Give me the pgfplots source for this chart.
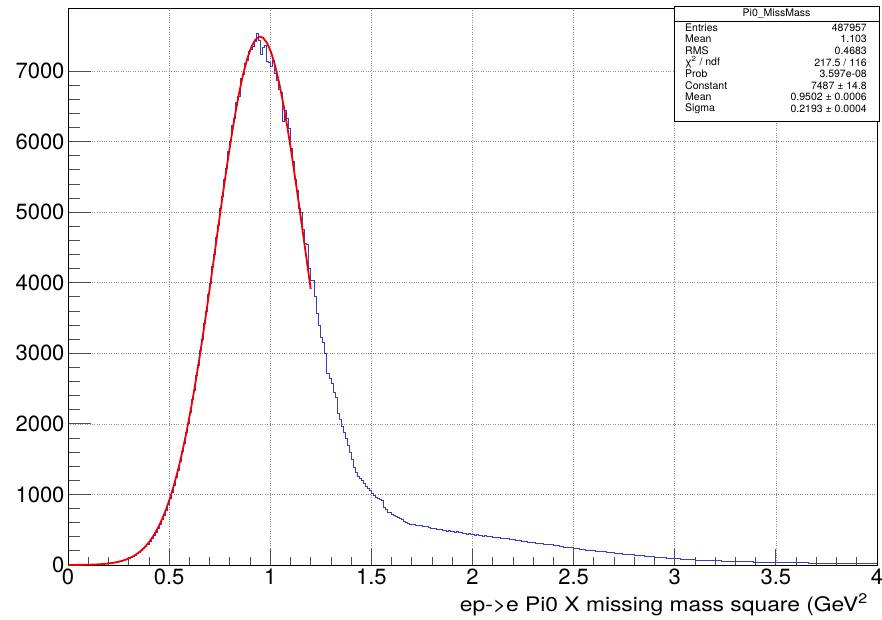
\documentclass[border=0pt]{standalone}
\usepackage{fontspec}
\setmainfont{TeX Gyre Heros}
\usepackage{pgfplots}
\pgfplotsset{compat=1.18}
\definecolor{histblue}{RGB}{60,60,185}
\definecolor{fitred}{RGB}{240,0,0}
\begin{document}
\begin{tikzpicture}[x=1pt,y=1pt]
\path[use as bounding box] (0,0) rectangle (882,619);
\begin{axis}[
  at={(68pt,54pt)}, anchor=south west,
  scale only axis, width=809pt, height=557pt,
  xmin=0, xmax=4, ymin=0, ymax=7893,
  axis line style={black, line width=0.8pt},
  xtick={0,0.5,1,1.5,2,2.5,3,3.5,4},
  xticklabels={0,0.5,1,1.5,2,2.5,3,3.5,4},
  ytick={0,1000,2000,3000,4000,5000,6000,7000},
  yticklabels={0,1000,2000,3000,4000,5000,6000,7000},
  minor x tick num=4, minor y tick num=4,
  xtick pos=bottom, ytick pos=left,
  tick align=inside,
  major tick length=16pt, minor tick length=8pt,
  every y tick/.append style={/pgfplots/major tick length=23pt,/pgfplots/minor tick length=12pt},
  tick style={black!70, line width=0.8pt},
  grid=major,
  grid style={dotted, black!45, line width=0.6pt},
  scaled ticks=false,
  /pgf/number format/assume math mode=true,
  ticklabel style={font=\fontsize{22}{22}\selectfont},
  clip=true,
]
\addplot[const plot, histblue, line width=0.8pt, mark=none] coordinates {
(0.00,0)(0.01,1)(0.02,1)(0.03,2)(0.04,1)(0.05,2)(0.06,3)(0.07,2)(0.08,4)(0.09,3)
(0.10,5)(0.11,6)(0.12,5)(0.13,8)(0.14,9)(0.15,10)(0.16,13)(0.17,14)(0.18,18)(0.19,19)
(0.20,24)(0.21,26)(0.22,31)(0.23,37)(0.24,41)(0.25,48)(0.26,57)(0.27,64)(0.28,73)(0.29,85)
(0.30,96)(0.31,110)(0.32,124)(0.33,142)(0.34,160)(0.35,181)(0.36,205)(0.37,236)(0.38,262)(0.39,296)
(0.40,334)(0.41,372)(0.42,418)(0.43,468)(0.44,515)(0.45,578)(0.46,640)(0.47,706)(0.48,780)(0.49,860)
(0.50,948)(0.51,1030)(0.52,1135)(0.53,1240)(0.54,1345)(0.55,1470)(0.56,1610)(0.57,1720)(0.58,1880)(0.59,2005)
(0.60,2160)(0.61,2345)(0.62,2480)(0.63,2690)(0.64,2830)(0.65,3040)(0.66,3190)(0.67,3420)(0.68,3590)(0.69,3830)
(0.70,3990)(0.71,4230)(0.72,4400)(0.73,4640)(0.74,4810)(0.75,5060)(0.76,5220)(0.77,5470)(0.78,5620)(0.79,5860)
(0.80,6000)(0.81,6230)(0.82,6330)(0.83,6560)(0.84,6640)(0.85,6900)(0.86,6950)(0.87,7110)(0.88,7150)(0.89,7280)
(0.90,7300)(0.91,7350)(0.92,7420)(0.93,7535)(0.94,7430)(0.95,7230)(0.96,7340)(0.97,7360)(0.98,7140)(0.99,7120)
(1.00,7060)(1.01,7150)(1.02,6970)(1.03,6860)(1.04,6740)(1.05,6700)(1.06,6290)(1.07,6440)(1.08,6330)(1.09,6180)
(1.10,5900)(1.11,5720)(1.12,5470)(1.13,5310)(1.14,5050)(1.15,4990)(1.16,4750)(1.17,4560)(1.18,4550)(1.19,4210)
(1.20,4040)(1.21,4030)(1.22,3800)(1.23,3570)(1.24,3390)(1.25,3230)(1.26,3160)(1.27,3000)(1.28,2720)(1.29,2650)
(1.30,2580)(1.31,2440)(1.32,2380)(1.33,2150)(1.34,2060)(1.35,1960)(1.36,1880)(1.37,1790)(1.38,1700)(1.39,1590)
(1.40,1500)(1.41,1390)(1.42,1310)(1.43,1260)(1.44,1230)(1.45,1200)(1.46,1150)(1.47,1110)(1.48,1080)(1.49,1060)
(1.50,1020)(1.51,990)(1.52,965)(1.53,950)(1.54,930)(1.55,920)(1.56,810)(1.57,790)(1.58,740)(1.59,745)
(1.60,720)(1.61,705)(1.62,695)(1.63,680)(1.64,665)(1.65,640)(1.66,620)(1.67,610)(1.68,595)(1.69,580)
(1.70,570)(1.71,575)(1.72,560)(1.73,565)(1.74,555)(1.75,548)(1.76,540)(1.77,545)(1.78,528)(1.79,520)
(1.80,515)(1.81,522)(1.82,505)(1.83,500)(1.84,505)(1.85,490)(1.86,495)(1.87,480)(1.88,485)(1.89,470)
(1.90,475)(1.91,465)(1.92,470)(1.93,455)(1.94,460)(1.95,445)(1.96,450)(1.97,440)(1.98,445)(1.99,430)
(2.00,435)(2.01,425)(2.02,430)(2.03,415)(2.04,420)(2.05,410)(2.06,415)(2.07,405)(2.08,400)(2.09,402)
(2.10,395)(2.11,398)(2.12,388)(2.13,390)(2.14,380)(2.15,384)(2.16,372)(2.17,375)(2.18,365)(2.19,362)
(2.20,358)(2.21,352)(2.22,348)(2.23,350)(2.24,338)(2.25,335)(2.26,330)(2.27,325)(2.28,322)(2.29,318)
(2.30,315)(2.31,308)(2.32,312)(2.33,302)(2.34,300)(2.35,294)(2.36,296)(2.37,288)(2.38,285)(2.39,286)
(2.40,280)(2.41,272)(2.42,274)(2.43,265)(2.44,262)(2.45,255)(2.46,256)(2.47,248)(2.48,244)(2.49,245)
(2.50,236)(2.51,238)(2.52,230)(2.53,228)(2.54,222)(2.55,224)(2.56,214)(2.57,212)(2.58,208)(2.59,206)
(2.60,200)(2.61,198)(2.62,195)(2.63,192)(2.64,190)(2.65,186)(2.66,182)(2.67,180)(2.68,175)(2.69,172)
(2.70,170)(2.71,167)(2.72,165)(2.73,160)(2.74,157)(2.75,156)(2.76,152)(2.77,148)(2.78,147)(2.79,144)
(2.80,142)(2.81,138)(2.82,136)(2.83,134)(2.84,130)(2.85,126)(2.86,125)(2.87,120)(2.88,118)(2.89,117)
(2.90,114)(2.91,111)(2.92,110)(2.93,106)(2.94,104)(2.95,103)(2.96,100)(2.97,98)(2.98,97)(2.99,95)
(3.00,93)(3.01,90)(3.02,89)(3.03,86)(3.04,84)(3.05,83)(3.06,80)(3.07,78)(3.08,77)(3.09,74)
(3.10,72)(3.11,71)(3.12,70)(3.13,68)(3.14,67)(3.15,66)(3.16,65)(3.17,64)(3.18,63)(3.19,62)
(3.20,62)(3.21,60)(3.22,59)(3.23,58)(3.24,57)(3.25,56)(3.26,55)(3.27,54)(3.28,53)(3.29,52)
(3.30,52)(3.31,51)(3.32,50)(3.33,49)(3.34,48)(3.35,47)(3.36,47)(3.37,46)(3.38,45)(3.39,44)
(3.40,44)(3.41,43)(3.42,42)(3.43,42)(3.44,41)(3.45,40)(3.46,40)(3.47,39)(3.48,38)(3.49,38)
(3.50,37)(3.51,37)(3.52,36)(3.53,36)(3.54,35)(3.55,35)(3.56,34)(3.57,34)(3.58,33)(3.59,33)
(3.60,32)(3.61,32)(3.62,31)(3.63,31)(3.64,30)(3.65,30)(3.66,29)(3.67,29)(3.68,28)(3.69,28)
(3.70,27)(3.71,27)(3.72,27)(3.73,26)(3.74,26)(3.75,26)(3.76,25)(3.77,25)(3.78,25)(3.79,24)
(3.80,24)(3.81,24)(3.82,23)(3.83,23)(3.84,23)(3.85,22)(3.86,22)(3.87,22)(3.88,22)(3.89,21)
(3.90,21)(3.91,21)(3.92,21)(3.93,20)(3.94,20)(3.95,20)(3.96,20)(3.97,19)(3.98,19)(3.99,19)
(4.00,19)
};
\addplot[fitred, line width=1.8pt, mark=none] coordinates {
(0.0,0.6)(0.025,1.0)(0.055,1.8)(0.085,3.1)(0.105,4.5)(0.125,6.3)(0.145,8.9)(0.165,12.3)
(0.185,17)(0.205,23.3)(0.225,31.6)(0.245,42.6)(0.265,56.8)(0.285,75.2)(0.305,98.8)
(0.325,128.6)(0.345,166.2)(0.365,212.9)(0.385,270.4)(0.405,340.6)(0.425,425.5)
(0.445,527.2)(0.465,647.5)(0.485,789.1)(0.505,953.4)(0.525,1142.6)(0.545,1358)
(0.565,1600.6)(0.585,1871)(0.605,2169)(0.625,2493)(0.645,2843)(0.665,3214)(0.685,3604)
(0.705,4007)(0.725,4419)(0.745,4832)(0.765,5241)(0.785,5638)(0.805,6013)(0.825,6361)
(0.845,6673)(0.865,6943)(0.885,7163)(0.905,7330)(0.925,7438)(0.945,7485)(0.9502,7487)
(0.965,7470)(0.985,7393)(1.005,7257)(1.025,7064)(1.045,6819)(1.065,6528)(1.085,6198)
(1.105,5836)(1.125,5449)(1.145,5046)(1.165,4634)(1.185,4221)(1.2,3913)
};
\end{axis}
% x-axis title
\node[anchor=base east, inner sep=0pt, font=\fontsize{20}{20}\selectfont, xscale=1.14] at (868,8) {ep->e Pi0 X missing mass square (GeV\textsuperscript{2}};
% statistics box
\draw[black, line width=0.7pt, fill=white] (674,613) rectangle (879,498);
\draw[black, line width=0.7pt] (674,598) -- (879,598);
\node[font=\fontsize{10.5}{10.5}\selectfont, inner sep=0pt] at (776.5,605.5) {Pi0\_MissMass};
\begin{scope}[every node/.style={font=\fontsize{10.5}{10.5}\selectfont, inner sep=0pt}]
\node[anchor=west] at (685,591.5) {Entries};   \node[anchor=east] at (867,591.5) {487957};
\node[anchor=west] at (685,579.9) {Mean};      \node[anchor=east] at (867,579.9) {1.103};
\node[anchor=west] at (685,568.3) {RMS};       \node[anchor=east] at (867,568.3) {0.4683};
\node[anchor=west] at (685,556.7) {χ\textsuperscript{2} / ndf}; \node[anchor=east] at (867,556.7) {217.5 / 116};
\node[anchor=west] at (685,545.1) {Prob};      \node[anchor=east] at (867,545.1) {3.597e-08};
\node[anchor=west] at (685,533.5) {Constant};  \node[anchor=east] at (867,533.5) {7487 ± 14.8};
\node[anchor=west] at (685,521.9) {Mean};      \node[anchor=east] at (867,521.9) {0.9502 ± 0.0006};
\node[anchor=west] at (685,510.3) {Sigma};     \node[anchor=east] at (867,510.3) {0.2193 ± 0.0004};
\end{scope}
\end{tikzpicture}
\end{document}
